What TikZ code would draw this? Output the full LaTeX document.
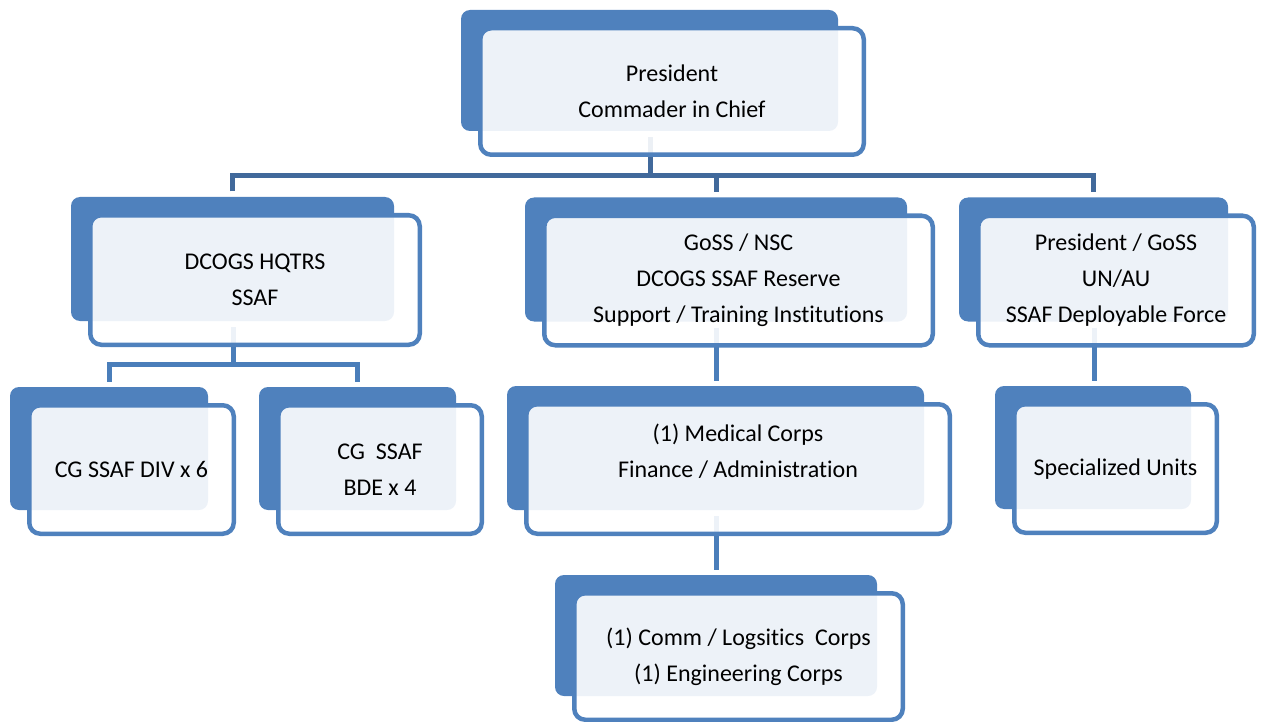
\documentclass[tikz,border=0pt]{standalone}
\usepackage{fontspec}
\setmainfont{Carlito}[RawFeature={-liga;-clig;-dlig}]
\usetikzlibrary{calc}
\pgfdeclarelayer{lines}
\pgfdeclarelayer{back}
\pgfsetlayers{lines,back,main}
\definecolor{boxblue}{HTML}{4F81BD}
\definecolor{busblue}{HTML}{41699B}
\definecolor{linkblue}{HTML}{4A7EBA}
\tikzset{
  unit/.style={draw=boxblue, line width=4.5pt, rounded corners=11pt,
    fill=white, fill opacity=0.9, text opacity=1, draw opacity=1,
    inner sep=0pt, align=center, text=black,
    font=\fontsize{24}{36}\selectfont},
  sz/.style 2 args={minimum width=#1pt, minimum height=#2pt},
  backplate/.style={fill=boxblue, rounded corners=9pt},
  busline/.style={draw=busblue, line width=5pt},
  linkline/.style={draw=linkblue, line width=5pt},
}
\begin{document}
\begin{tikzpicture}[x=1pt,y=-1pt]
\useasboundingbox (0,0) rectangle (1263,722);

% front boxes
\node[unit, sz={383.5}{126.5}] (top)  at (672,91.5)    {President\\Commader in Chief};
\node[unit, sz={329.5}{129.5}] (hq)   at (255,280)     {DCOGS HQTRS\\SSAF};
\node[unit, sz={388.5}{129.5}] (res)  at (738.5,280.5) {GoSS / NSC\\DCOGS SSAF Reserve\\Support / Training Institutions};
\node[unit, sz={275.5}{129.5}] (dep)  at (1116,280.5)  {President / GoSS\\UN/AU\\SSAF Deployable Force};
\node[unit, sz={204.5}{128.5}] (div)  at (131.5,469.5) {CG SSAF DIV x 6};
\node[unit, sz={203.5}{128.5}] (bde)  at (380,469.5)   {CG\ \ SSAF\\BDE x 4};
\node[unit, sz={423.5}{129.5}] (med)  at (738,469)     {(1) Medical Corps\\Finance / Administration\\~};
\node[unit, sz={202.5}{128.5}] (spec) at (1115.5,468.5){\strut Specialized Units};
\node[unit, sz={328.5}{126.5}] (comm) at (738.5,656.5) {(1) Comm / Logsitics\ \ Corps\\(1) Engineering Corps};

% dark back plates
\begin{pgfonlayer}{back}
\foreach \n in {top,hq,res,dep,div,bde,med,spec,comm}
  \fill[backplate] ([xshift=-17pt,yshift=16pt]\n.north west) rectangle ([xshift=-28pt,yshift=26pt]\n.south east);
\end{pgfonlayer}

% connector ports
\coordinate (bus0) at (0,175.5);
\coordinate (bus1) at (0,364.5);
\foreach \n in {top,hq,res,dep,med} {
  \coordinate (s-\n) at ([xshift=-22pt,yshift=20pt]\n.south);
}
\foreach \n in {hq,res,dep,div,bde,med,spec,comm} {
  \coordinate (e-\n) at ([xshift=-22.5pt,yshift=21.5pt]\n.north);
}

\begin{pgfonlayer}{lines}
\draw[busline] (s-top) -- (s-top |- bus0);
\draw[busline] (e-hq) -- (e-hq |- bus0) -- (e-dep |- bus0) -- (e-dep);
\draw[busline] (e-res |- bus0) -- (e-res);
\draw[linkline] (s-hq) -- (s-hq |- bus1);
\draw[linkline] (e-div) -- (e-div |- bus1) -- (e-bde |- bus1) -- (e-bde);
\draw[linkline] (s-res) -- (s-res |- e-med);
\draw[linkline] (s-dep) -- (s-dep |- e-spec);
\draw[linkline] (s-med) -- (s-med |- e-comm);
\end{pgfonlayer}
\end{tikzpicture}
\end{document}
